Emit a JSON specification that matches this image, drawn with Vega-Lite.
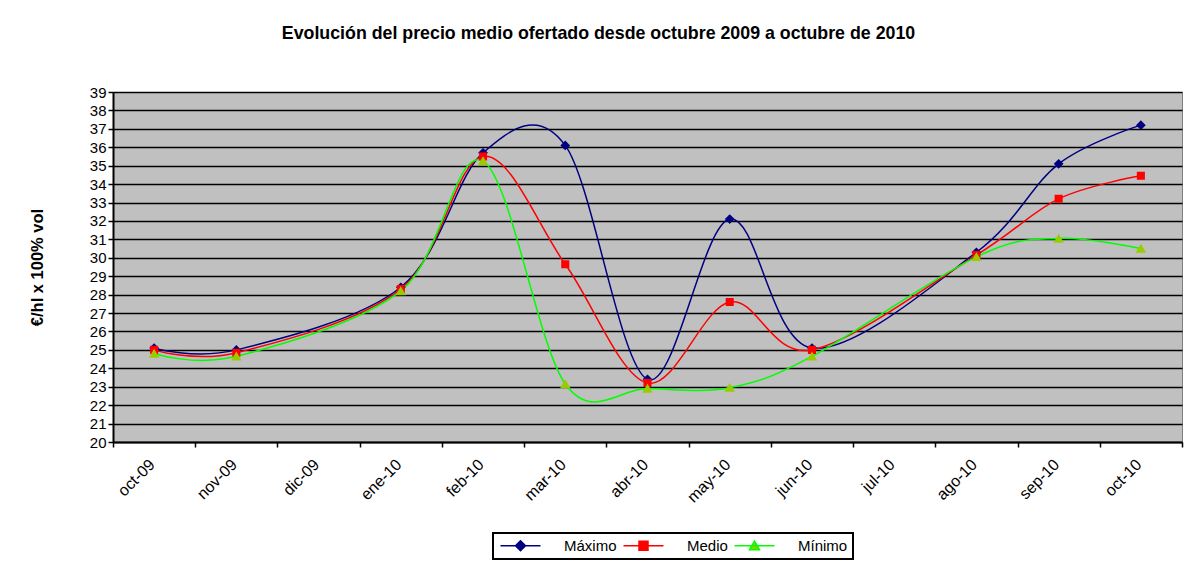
{
  "$schema": "https://vega.github.io/schema/vega-lite/v6.json",
  "width": 1069,
  "height": 350,
  "autosize": {"type": "none"},
  "padding": {"left": 113, "top": 92, "right": 14, "bottom": 125},
  "background": "white",
  "title": {
    "text": "Evolución del precio medio ofertado desde octubre 2009 a octubre de 2010",
    "font": "Liberation Sans",
    "fontSize": 17.8,
    "fontWeight": "bold",
    "color": "black",
    "anchor": "middle",
    "dx": -49,
    "offset": 42
  },
  "data": {
    "values": [
      {"mes": "oct-09", "serie": "Máximo", "precio": 25.1},
      {"mes": "nov-09", "serie": "Máximo", "precio": 25.0},
      {"mes": "ene-10", "serie": "Máximo", "precio": 28.4},
      {"mes": "feb-10", "serie": "Máximo", "precio": 35.7},
      {"mes": "mar-10", "serie": "Máximo", "precio": 36.1},
      {"mes": "abr-10", "serie": "Máximo", "precio": 23.4},
      {"mes": "may-10", "serie": "Máximo", "precio": 32.1},
      {"mes": "jun-10", "serie": "Máximo", "precio": 25.1},
      {"mes": "ago-10", "serie": "Máximo", "precio": 30.3},
      {"mes": "sep-10", "serie": "Máximo", "precio": 35.1},
      {"mes": "oct-10", "serie": "Máximo", "precio": 37.2},
      {"mes": "oct-09", "serie": "Medio", "precio": 25.0},
      {"mes": "nov-09", "serie": "Medio", "precio": 24.85},
      {"mes": "ene-10", "serie": "Medio", "precio": 28.3},
      {"mes": "feb-10", "serie": "Medio", "precio": 35.5},
      {"mes": "mar-10", "serie": "Medio", "precio": 29.65},
      {"mes": "abr-10", "serie": "Medio", "precio": 23.2},
      {"mes": "may-10", "serie": "Medio", "precio": 27.6},
      {"mes": "jun-10", "serie": "Medio", "precio": 25.0},
      {"mes": "ago-10", "serie": "Medio", "precio": 30.15},
      {"mes": "sep-10", "serie": "Medio", "precio": 33.2},
      {"mes": "oct-10", "serie": "Medio", "precio": 34.45},
      {"mes": "oct-09", "serie": "Mínimo", "precio": 24.8},
      {"mes": "nov-09", "serie": "Mínimo", "precio": 24.65},
      {"mes": "ene-10", "serie": "Mínimo", "precio": 28.2},
      {"mes": "feb-10", "serie": "Mínimo", "precio": 35.25},
      {"mes": "mar-10", "serie": "Mínimo", "precio": 23.15},
      {"mes": "abr-10", "serie": "Mínimo", "precio": 22.9},
      {"mes": "may-10", "serie": "Mínimo", "precio": 22.95},
      {"mes": "jun-10", "serie": "Mínimo", "precio": 24.65},
      {"mes": "ago-10", "serie": "Mínimo", "precio": 30.05},
      {"mes": "sep-10", "serie": "Mínimo", "precio": 31.05},
      {"mes": "oct-10", "serie": "Mínimo", "precio": 30.5}
    ]
  },
  "encoding": {
    "x": {
      "field": "mes",
      "type": "ordinal",
      "sort": null,
      "scale": {
        "type": "band",
        "domain": ["oct-09", "nov-09", "dic-09", "ene-10", "feb-10", "mar-10", "abr-10", "may-10", "jun-10", "jul-10", "ago-10", "sep-10", "oct-10"],
        "paddingInner": 0,
        "paddingOuter": 0
      },
      "axis": {
        "title": null,
        "tickBand": "extent",
        "grid": false,
        "domainColor": "black",
        "domainWidth": 2,
        "tickColor": "black",
        "tickWidth": 1.5,
        "tickSize": 5,
        "labelAngle": -45,
        "labelFont": "Liberation Sans",
        "labelFontSize": 16,
        "labelColor": "black",
        "labelPadding": 9,
        "labelOffset": -8
      }
    },
    "y": {
      "field": "precio",
      "type": "quantitative",
      "scale": {"domain": [20, 39], "nice": false, "zero": false},
      "axis": {
        "title": "€/hl x 100% vol",
        "titleFont": "Liberation Sans",
        "titleFontSize": 16.5,
        "titleFontWeight": "bold",
        "titleColor": "black",
        "titlePadding": 44,
        "values": [20, 21, 22, 23, 24, 25, 26, 27, 28, 29, 30, 31, 32, 33, 34, 35, 36, 37, 38, 39],
        "grid": true,
        "gridColor": "black",
        "gridWidth": 1.5,
        "gridOpacity": 1,
        "domainColor": "black",
        "domainWidth": 2,
        "tickColor": "black",
        "tickWidth": 1.5,
        "tickSize": 5,
        "labelFont": "Liberation Sans",
        "labelFontSize": 15,
        "labelColor": "black",
        "labelPadding": 2
      }
    }
  },
  "layer": [
    {
      "mark": {"type": "line", "interpolate": "cardinal", "strokeWidth": 1.5},
      "encoding": {
        "stroke": {
          "field": "serie",
          "type": "nominal",
          "scale": {"domain": ["Máximo", "Medio", "Mínimo"], "range": ["#000080", "#FF0000", "#00FF00"]}
        }
      }
    },
    {
      "mark": {"type": "point", "filled": true, "opacity": 1},
      "encoding": {
        "size": {
          "field": "serie",
          "type": "nominal",
          "scale": {"domain": ["Medio", "Máximo", "Mínimo"], "range": [80, 110, 120]},
          "legend": null
        },
        "fill": {
          "field": "serie",
          "type": "nominal",
          "scale": {"domain": ["Máximo", "Medio", "Mínimo"], "range": ["#000080", "#FF0000", "#99CC00"]}
        },
        "shape": {
          "field": "serie",
          "type": "nominal",
          "scale": {
            "domain": ["Máximo", "Medio", "Mínimo"],
            "range": [
              "M-4,0H4M0,-1L1,0L0,1L-1,0Z",
              "M-4,0H4M-0.9,-0.9H0.9V0.9H-0.9Z",
              "M-4,0H4M0,-0.9L1,0.8H-1Z"
            ]
          }
        }
      }
    }
  ],
  "config": {
    "view": {"fill": "#C0C0C0", "stroke": "#808080", "strokeWidth": 1},
    "legend": {
      "title": null,
      "orient": "none",
      "legendX": 380,
      "legendY": 441,
      "direction": "horizontal",
      "symbolSize": 100,
      "symbolOffset": 15,
      "symbolStrokeWidth": 1.5,
      "labelFont": "Liberation Sans",
      "labelFontSize": 15,
      "labelColor": "black",
      "labelOffset": 36,
      "columnPadding": 3,
      "padding": 5,
      "strokeColor": "black",
      "strokeWidth": 2
    }
  }
}
